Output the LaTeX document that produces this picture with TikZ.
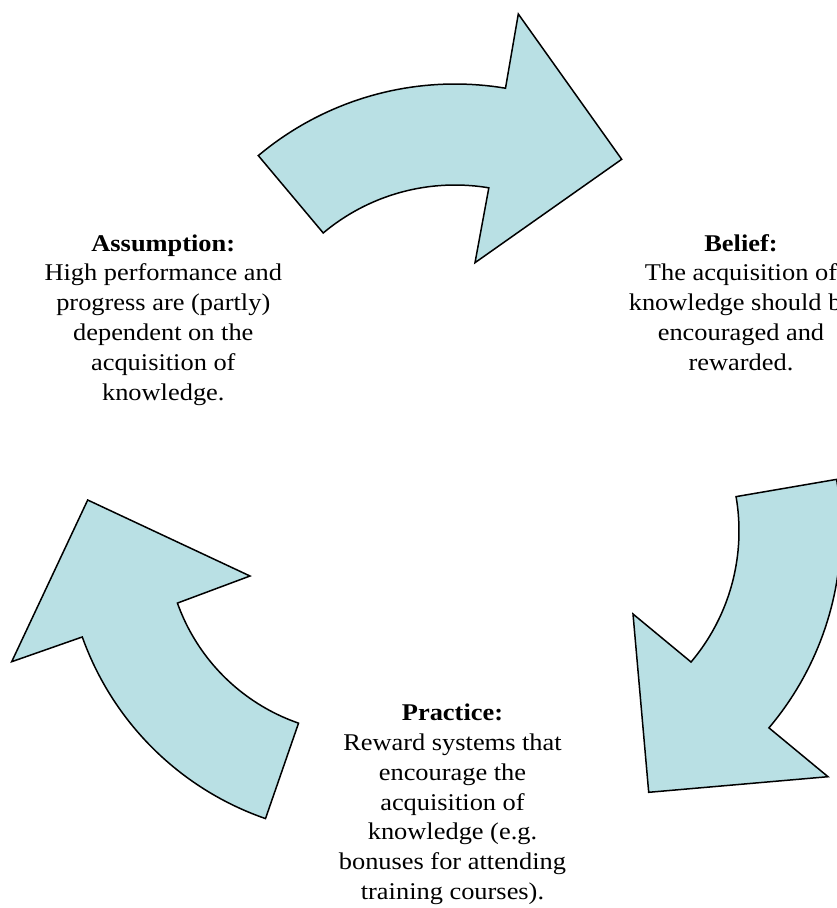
\documentclass[tikz,border=0pt]{standalone}
\usepackage{fontspec}
\setmainfont[FakeStretch=1.1]{Liberation Serif}
\definecolor{arrowfill}{RGB}{185,224,228}
\tikzset{
  arrowshape/.style={fill=arrowfill, draw=black, line width=1.5pt, line join=miter},
  textblock/.style={inner sep=0pt, anchor=base, font=\fontsize{24}{29.8}\selectfont}
}
\newcommand{\blocktext}[1]{\begin{tabular}[t]{@{}c@{}}#1\end{tabular}}
\begin{document}
\begin{tikzpicture}[x=1pt,y=-1pt]
\useasboundingbox (0,0) rectangle (837,908);
\clip (0,0) rectangle (837,908);
% top arrow (center 455,390)
\draw[arrowshape]
  plot[domain=-130:-80.5, samples=40] ({455+306*cos(\x)},{390+306*sin(\x)})
  -- (518.3,14) -- (621.7,159.3) -- (475,262.7)
  -- plot[domain=-80.5:-130, samples=40] ({455+205*cos(\x)},{390+205*sin(\x)})
  -- cycle;
% right arrow (center 536,531)
\draw[arrowshape]
  plot[domain=-9.75:40.2, samples=40] ({536+203*cos(\x)},{531+203*sin(\x)})
  -- (633,614) -- (648.7,792.3) -- (828,776.7)
  -- plot[domain=40.2:-9.75, samples=40] ({536+305*cos(\x)},{531+305*sin(\x)})
  -- cycle;
% left arrow (center 363,537)
\draw[arrowshape]
  (87.7,500) -- (250,576)
  -- plot[domain=160.4:109.1, samples=40] ({363+197*cos(\x)},{537+197*sin(\x)})
  -- plot[domain=109.1:160.4, samples=40] ({363+298*cos(\x)},{537+298*sin(\x)})
  -- (11.7,661.7) -- cycle;
% texts
\node[textblock] (assumption) at (163.3,251) {\blocktext{\textbf{Assumption:}\\High performance and\\progress are (partly)\\dependent on the\\acquisition of\\knowledge.}};
\node[textblock] (belief) at (741,251) {\blocktext{\textbf{Belief:}\\The acquisition of\\knowledge should be\\encouraged and\\rewarded.}};
\node[textblock] (practice) at (452.5,720.7) {\blocktext{\textbf{Practice:}\\Reward systems that\\encourage the\\acquisition of\\knowledge (e.g.\\bonuses for attending\\training courses).}};
\end{tikzpicture}
\end{document}
